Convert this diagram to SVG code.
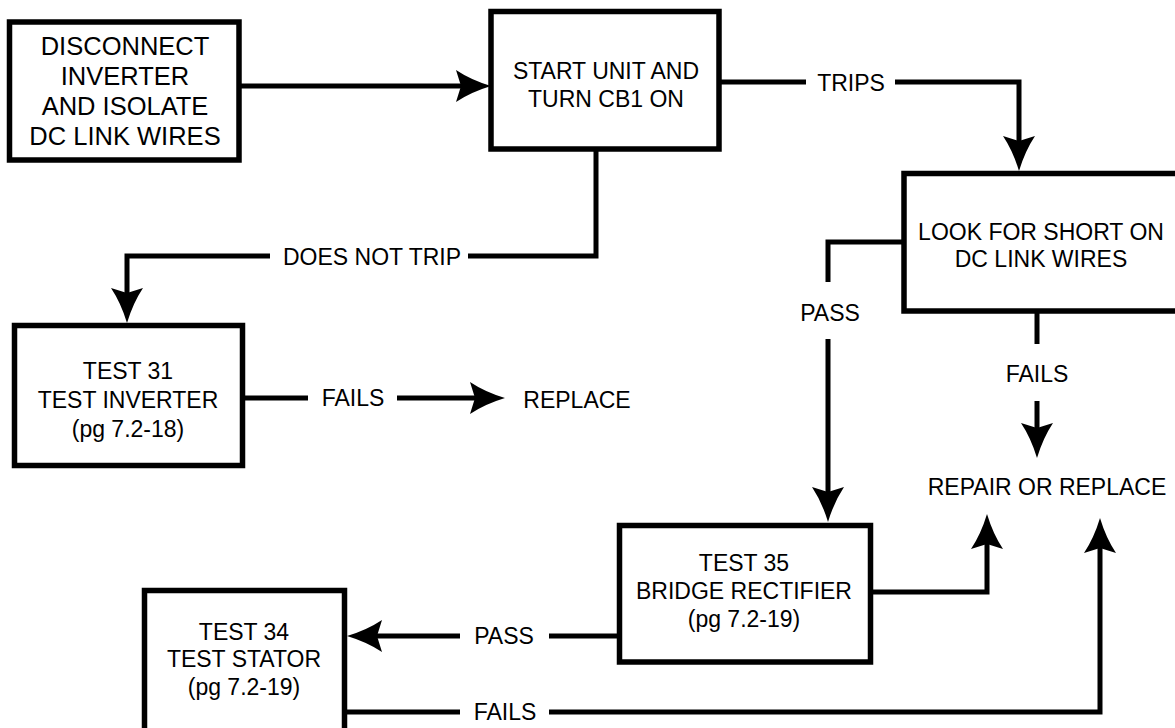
<svg xmlns="http://www.w3.org/2000/svg" width="1175" height="728" viewBox="0 0 1175 728">
<style>
  .box { fill: #ffffff; stroke: #000000; stroke-width: 5.5; }
  .ln { fill: none; stroke: #000000; stroke-width: 5; stroke-linejoin: miter; stroke-linecap: butt; }
  .arr { marker-end: url(#ah); }
  text { font-family: "Liberation Sans", Arial, Helvetica, sans-serif; font-size: 23px; fill: #000000; text-anchor: middle; }
  .big { font-size: 25.5px; }
</style>
<defs>
  <marker id="ah" markerUnits="userSpaceOnUse" viewBox="-20 -20 45 40" markerWidth="45" markerHeight="40" refX="0" refY="0" orient="auto">
    <path d="M 22 0 Q 2 -6 -13 -16 L -8 0 L -13 16 Q 2 6 22 0 Z" fill="#000000"/>
  </marker>
</defs>
<rect width="1175" height="728" fill="#ffffff"/>

<g id="connectors">
  <line class="ln arr" x1="239" y1="86" x2="469" y2="86"/>
  <line class="ln" x1="719" y1="82" x2="806" y2="82"/>
  <polyline class="ln arr" points="895,82 1019,82 1019,149"/>
  <polyline class="ln" points="596,149 596,256 468,256"/>
  <polyline class="ln arr" points="270,256 127,256 127,301"/>
  <line class="ln" x1="242" y1="398" x2="308" y2="398"/>
  <line class="ln arr" x1="397" y1="398" x2="483" y2="398"/>
  <polyline class="ln" points="904,242 828,242 828,282"/>
  <line class="ln arr" x1="828" y1="339" x2="828" y2="500"/>
  <line class="ln" x1="1037" y1="311" x2="1037" y2="344"/>
  <line class="ln arr" x1="1037" y1="401" x2="1037" y2="436"/>
  <polyline class="ln arr" points="870,592 987,592 987,536"/>
  <line class="ln" x1="619" y1="636" x2="549" y2="636"/>
  <line class="ln arr" x1="460" y1="636" x2="369" y2="636"/>
  <line class="ln" x1="344" y1="712" x2="460" y2="712"/>
  <polyline class="ln arr" points="549,712 1100,712 1100,540"/>
  <text x="851" y="91">TRIPS</text>
  <text x="372" y="265">DOES NOT TRIP</text>
  <text x="353" y="406">FAILS</text>
  <text x="577" y="408">REPLACE</text>
  <text x="830" y="321">PASS</text>
  <text x="1037" y="382">FAILS</text>
  <text x="1047" y="495">REPAIR OR REPLACE</text>
  <text x="504" y="644">PASS</text>
  <text x="505" y="720">FAILS</text>
</g>

<g id="node-disconnect">
  <rect class="box" x="9.5" y="22" width="229.5" height="138"/>
  <text class="big" x="125" y="55">DISCONNECT</text>
  <text class="big" x="125" y="85">INVERTER</text>
  <text class="big" x="125" y="115">AND ISOLATE</text>
  <text class="big" x="125" y="145">DC LINK WIRES</text>
</g>

<g id="node-start">
  <rect class="box" x="491" y="11.5" width="228" height="137.5"/>
  <text x="606" y="79">START UNIT AND</text>
  <text x="606" y="107">TURN CB1 ON</text>
</g>

<g id="node-look">
  <rect class="box" x="904" y="173.5" width="285" height="137.5"/>
  <text x="1041" y="240">LOOK FOR SHORT ON</text>
  <text x="1041" y="267">DC LINK WIRES</text>
</g>

<g id="node-test31">
  <rect class="box" x="14.5" y="325.5" width="228" height="140"/>
  <text x="128" y="379">TEST 31</text>
  <text x="128" y="408">TEST INVERTER</text>
  <text x="128" y="437">(pg 7.2-18)</text>
</g>

<g id="node-test35">
  <rect class="box" x="619.5" y="525.5" width="251" height="136.5"/>
  <text x="744" y="571">TEST 35</text>
  <text x="744" y="599">BRIDGE RECTIFIER</text>
  <text x="744" y="627">(pg 7.2-19)</text>
</g>

<g id="node-test34">
  <rect class="box" x="144.5" y="590.5" width="200" height="150"/>
  <text x="244" y="640">TEST 34</text>
  <text x="244" y="667">TEST STATOR</text>
  <text x="244" y="695">(pg 7.2-19)</text>
</g>
</svg>
